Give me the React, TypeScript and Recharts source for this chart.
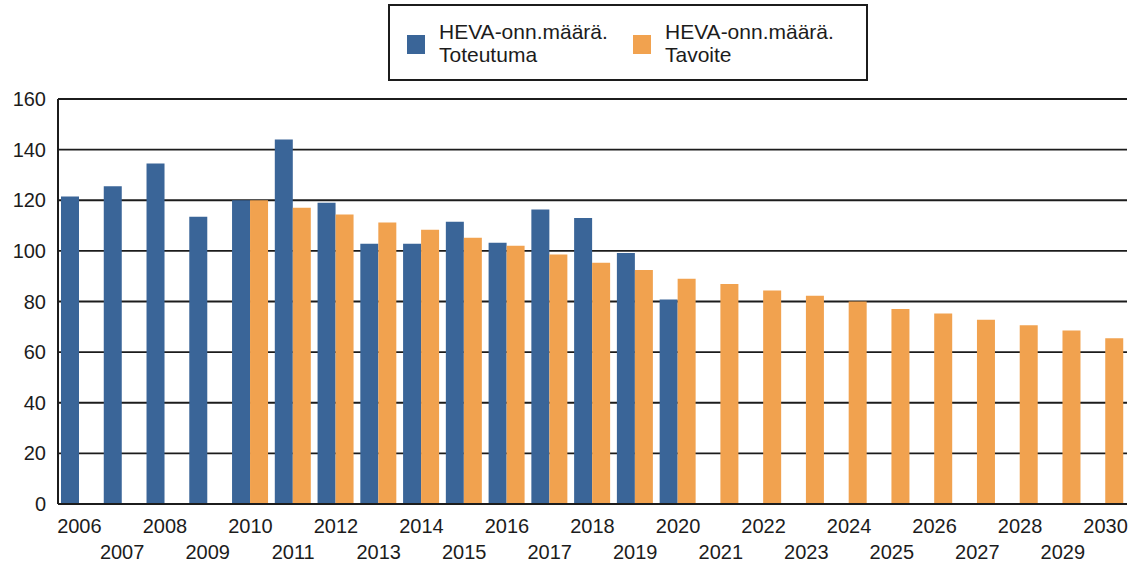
import React from "react";
import { BarChart, Bar, XAxis, YAxis, CartesianGrid } from "recharts";

const years = [
  "2006", "2007", "2008", "2009", "2010", "2011", "2012", "2013", "2014",
  "2015", "2016", "2017", "2018", "2019", "2020", "2021", "2022", "2023",
  "2024", "2025", "2026", "2027", "2028", "2029", "2030",
];

// HEVA-onn.määrä. Toteutuma
const toteutuma: (number | null)[] = [
  121.5, 125.5, 134.5, 113.5, 120, 144, 119, 102.8, 102.8, 111.5, 103.2,
  116.3, 113, 99.2, 80.8, null, null, null, null, null, null, null, null,
  null, null,
];

// HEVA-onn.määrä. Tavoite
const tavoite: (number | null)[] = [
  null, null, null, null, 120, 117, 114.4, 111.2, 108.3, 105.2, 102, 98.6,
  95.3, 92.4, 89, 86.9, 84.3, 82.3, 80, 77, 75.3, 72.8, 70.6, 68.5, 65.5,
];

const yTicks = [0, 20, 40, 60, 80, 100, 120, 140, 160];

const BLUE = "#3A6598";
const ORANGE = "#F1A24F";
const INK = "#1c1c1c";
const FONT = "'Liberation Sans', Arial, sans-serif";

const data = years.map((year, i) => ({
  year,
  toteutuma: toteutuma[i],
  tavoite: tavoite[i],
}));

function YearTick(props: any) {
  const { x, y, payload } = props;
  const odd = payload.index % 2 === 1;
  return (
    <text
      x={x}
      y={y + (odd ? 47 : 21)}
      textAnchor="middle"
      fontSize={20}
      fontFamily={FONT}
      fill={INK}
    >
      {payload.value}
    </text>
  );
}

function LegendBox() {
  const items = [
    { color: BLUE, lines: ["HEVA-onn.määrä.", "Toteutuma"] },
    { color: ORANGE, lines: ["HEVA-onn.määrä.", "Tavoite"] },
  ];
  return (
    <div
      style={{
        position: "absolute",
        left: 388,
        top: 4,
        width: 476,
        height: 73,
        border: `2px solid ${INK}`,
        background: "#fff",
        display: "flex",
        alignItems: "center",
        fontFamily: FONT,
        fontSize: 21,
        color: INK,
        lineHeight: "23px",
      }}
    >
      {items.map((it, i) => (
        <div
          key={i}
          style={{
            display: "flex",
            alignItems: "center",
            marginLeft: i === 0 ? 17 : 14,
          }}
        >
          <div
            style={{
              width: 18,
              height: 19,
              background: it.color,
              marginRight: 14,
              marginTop: 4,
            }}
          />
          <div style={{ textAlign: "left", width: i === 0 ? 180 : 190 }}>
            {it.lines.map((l, j) => (
              <div key={j}>{l}</div>
            ))}
          </div>
        </div>
      ))}
    </div>
  );
}

export default function App() {
  return (
    <div
      style={{
        position: "absolute",
        left: 0,
        top: 0,
        width: 1131,
        height: 562,
        background: "#fff",
      }}
    >
      <BarChart
        width={1131}
        height={562}
        data={data}
        margin={{ top: 99, right: 4, left: 0, bottom: 0 }}
        barCategoryGap={3}
        barGap={0}
      >
        <CartesianGrid
          vertical={false}
          stroke={INK}
          strokeWidth={1.8}
          strokeOpacity={1}
        />
        <XAxis
          dataKey="year"
          interval={0}
          height={58}
          tick={<YearTick />}
          tickLine={false}
          axisLine={{ stroke: INK, strokeWidth: 2 }}
        />
        <YAxis
          domain={[0, 160]}
          ticks={yTicks}
          width={58}
          tickSize={0}
          tickMargin={12}
          tickLine={false}
          axisLine={{ stroke: INK, strokeWidth: 2 }}
          tick={{ fontSize: 20, fontFamily: FONT, fill: INK }}
          interval={0}
        />
        <YAxis
          yAxisId="right"
          orientation="right"
          domain={[0, 160]}
          width={0}
          tick={false}
          tickLine={false}
          axisLine={{ stroke: INK, strokeWidth: 2 }}
        />
        <Bar
          dataKey="toteutuma"
          name="HEVA-onn.määrä. Toteutuma"
          fill={BLUE}
          isAnimationActive={false}
        />
        <Bar
          dataKey="tavoite"
          name="HEVA-onn.määrä. Tavoite"
          fill={ORANGE}
          isAnimationActive={false}
        />
      </BarChart>
      <LegendBox />
    </div>
  );
}
